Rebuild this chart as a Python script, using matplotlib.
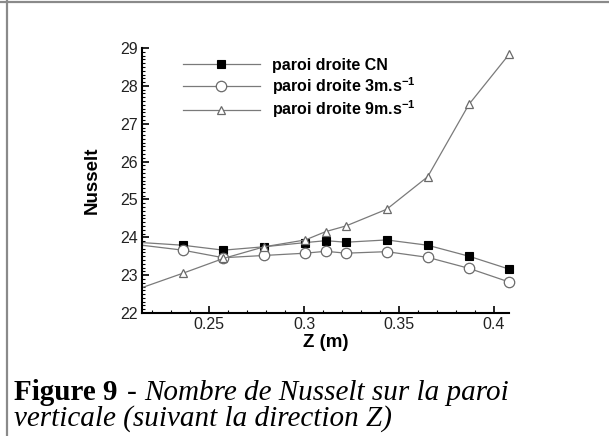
import matplotlib
matplotlib.use("Agg")
import matplotlib.pyplot as plt
from matplotlib.lines import Line2D
from matplotlib.ticker import MultipleLocator

plt.rcParams['font.family'] = ['Liberation Sans', 'DejaVu Sans']
plt.rcParams['mathtext.default'] = 'regular'

# Data (first point lies on the left axis edge; no marker drawn there)
z = [0.2147, 0.2362, 0.2575, 0.2791, 0.3007, 0.3114, 0.3221, 0.3435, 0.3651, 0.3868, 0.4079]
nu_cn = [23.86, 23.79, 23.66, 23.75, 23.86, 23.91, 23.87, 23.93, 23.79, 23.50, 23.16]
nu_3ms = [23.79, 23.66, 23.46, 23.52, 23.58, 23.63, 23.58, 23.62, 23.47, 23.18, 22.82]
nu_9ms = [22.67, 23.05, 23.44, 23.75, 23.93, 24.15, 24.30, 24.74, 25.60, 27.51, 28.83]

labels = ["paroi droite CN", "paroi droite 3m.s$^{-1}$", "paroi droite 9m.s$^{-1}$"]
xticks = [0.25, 0.3, 0.35, 0.4]
xticklabels = ["0.25", "0.3", "0.35", "0.4"]
yticks = [22, 23, 24, 25, 26, 27, 28, 29]

W, H = 609, 436
fig = plt.figure(figsize=(W / 100, H / 100), dpi=100)
ax = fig.add_axes([142 / W, 1 - 313 / H, (509 - 142) / W, (313 - 48) / H])

line_col = '#7a7a7a'
styles = [
    dict(marker='s', mfc='black', mec='black', ms=5.5, mew=0.8),
    dict(marker='o', mfc='white', mec='#6a6a6a', ms=7.5, mew=0.9),
    dict(marker='^', mfc='white', mec='#6a6a6a', ms=6, mew=0.9),
]
series = [nu_cn, nu_3ms, nu_9ms]
for ys, st, lab in zip(series, styles, labels):
    ax.plot(z[:2], ys[:2], color=line_col, lw=0.9)
    ax.plot(z[1:], ys[1:], color=line_col, lw=0.9, label=lab, clip_on=False, **st)

ax.set_xlim(0.2147, 0.4079)
ax.set_ylim(22, 29)
ax.set_xticks(xticks)
ax.set_xticklabels(xticklabels)
ax.set_yticks(yticks)
ax.xaxis.set_minor_locator(MultipleLocator(0.01))
ax.yaxis.set_minor_locator(MultipleLocator(0.1))
ax.tick_params(which='major', direction='in', length=5, width=1.2, labelsize=11.5,
               pad=3, colors='black', labelcolor='#222222')
ax.tick_params(which='minor', direction='in', length=2.5, width=0.8)
for s in ['top', 'right']:
    ax.spines[s].set_visible(False)
for s in ['left', 'bottom']:
    ax.spines[s].set_linewidth(1.5)

ax.set_xlabel("Z (m)", fontsize=13.5, fontweight='bold', labelpad=1)
ax.set_ylabel("Nusselt", fontsize=13.5, fontweight='bold', labelpad=14)

leg = ax.legend(loc='upper left', bbox_to_anchor=(183 / W, 1 - 58 / H),
                bbox_transform=fig.transFigure, frameon=False, numpoints=1,
                handlelength=4.8, handletextpad=0.8, labelspacing=0.12,
                borderpad=0, borderaxespad=0,
                prop=dict(family='Liberation Sans', weight='bold', size=11.5))

# page frame
fig.add_artist(Line2D([7 / W, 7 / W], [0, 1], transform=fig.transFigure,
                      color='#8a8a8a', lw=1.6))
fig.add_artist(Line2D([0, 1], [1 - 2 / H, 1 - 2 / H], transform=fig.transFigure,
                      color='#8a8a8a', lw=1.6))

# caption
fig.canvas.draw()
r = fig.canvas.get_renderer()
cap_size = 21
y1 = 1 - 400 / H
y2 = 1 - 426 / H
t1 = fig.text(14 / W, y1, "Figure 9", family='Liberation Serif', weight='bold',
              size=cap_size, va='baseline', ha='left')
bb = t1.get_window_extent(r)
t2 = fig.text((bb.x1 + 9) / W, y1, "-", family='Liberation Serif',
              size=cap_size, va='baseline', ha='left')
bb2 = t2.get_window_extent(r)
fig.text((bb2.x1 + 8) / W, y1, "Nombre de Nusselt sur la paroi", family='Liberation Serif',
         style='italic', size=cap_size, va='baseline', ha='left')
fig.text(14 / W, y2, "verticale (suivant la direction Z)", family='Liberation Serif',
         style='italic', size=cap_size, va='baseline', ha='left')

fig.savefig("out.png", dpi=100)
